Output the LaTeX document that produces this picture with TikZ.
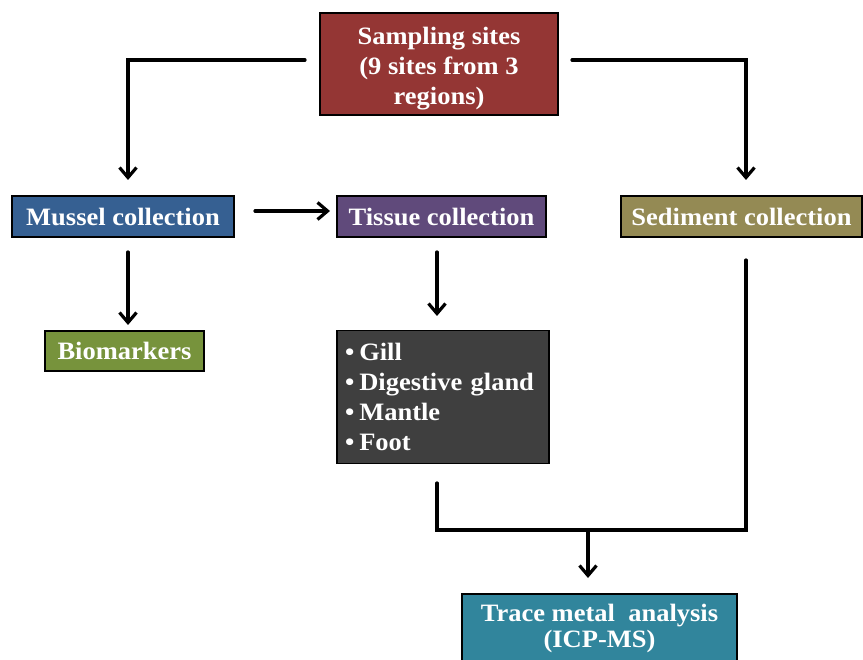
\documentclass[tikz,border=0pt]{standalone}
\usepackage{fontspec}
\setmainfont{Liberation Serif}[FakeStretch=1.06]
\usetikzlibrary{arrows.meta}
\definecolor{cred}{HTML}{943634}
\definecolor{cblue}{HTML}{366092}
\definecolor{cpurple}{HTML}{604A7B}
\definecolor{colive}{HTML}{948A54}
\definecolor{cgreen}{HTML}{77933C}
\definecolor{cgray}{HTML}{3F3F3F}
\definecolor{cteal}{HTML}{31859C}
\tikzset{
  box/.style={draw=black, line width=1.8pt, text=white, font=\bfseries\fontsize{25}{31}\selectfont, inner sep=0pt, align=center},
  conn/.style={line width=3.2pt, line cap=round},
  arr/.style={conn, -{Straight Barb[length=10pt,width=17pt,line width=3.2pt]}}
}
\begin{document}
\begin{tikzpicture}[x=1pt,y=-1pt]
\useasboundingbox (0,0) rectangle (863,660);
\clip (0,0) rectangle (863,660);
\node[box, fill=cred, minimum width=238pt, minimum height=102pt] (samp) at (439,64) {};
\node[box, draw=none, font=\bfseries\fontsize{25}{30}\selectfont] (sampT) at (439,69) {Sampling sites\\(9 sites from 3\\regions)};
\node[box, fill=cblue, minimum width=222pt, minimum height=41pt] (mussel) at (123,216.5) {Mussel collection};
\node[box, fill=cpurple, minimum width=209pt, minimum height=41pt] (tissue) at (441.5,216.5) {Tissue collection};
\node[box, fill=colive, minimum width=241pt, minimum height=41pt] (sed) at (741.5,216.5) {Sediment collection};
\node[box, fill=cgreen, minimum width=159pt, minimum height=40pt] (bio) at (124.5,351) {Biomarkers};
\node[box, fill=cgray, minimum width=212pt, minimum height=133pt, align=left, text width=196pt, font=\bfseries\fontsize{25}{30}\selectfont] (list) at (443,397) {\textbullet\hspace{5pt}Gill\\\textbullet\hspace{5pt}Digestive gland\\\textbullet\hspace{5pt}Mantle\\\textbullet\hspace{5pt}Foot};
\node[box, fill=cteal, minimum width=275pt, minimum height=80pt, anchor=north] (trace) at (599.5,593) {};
\node[box, draw=none, font=\bfseries\fontsize{25}{26}\selectfont] (traceT) at (599.5,628) {Trace metal\ \ analysis\\(ICP-MS)};
% connectors
\coordinate (sl) at (305,60);
\coordinate (sr) at (572,60);
\coordinate (ml) at (128,180);
\coordinate (sd) at (746,180);
\draw[arr] (sl) -| (ml);
\draw[arr] (sr) -| (sd);
\coordinate (m1) at (255,211);
\coordinate (t1) at (330,211);
\draw[arr] (m1) -- (t1);
\coordinate (m2) at (128,252);
\coordinate (b1) at (128,325);
\draw[arr] (m2) -- (b1);
\coordinate (t2) at (437,252);
\coordinate (l1) at (437,316);
\draw[arr] (t2) -- (l1);
\coordinate (l2) at (437,483);
\coordinate (s2) at (746,260);
\coordinate (j) at (588,530);
\coordinate (tr) at (588,578);
\draw[conn] (l2) |- (j) -| (s2);
\draw[arr] (j) -- (tr);
\end{tikzpicture}
\end{document}
